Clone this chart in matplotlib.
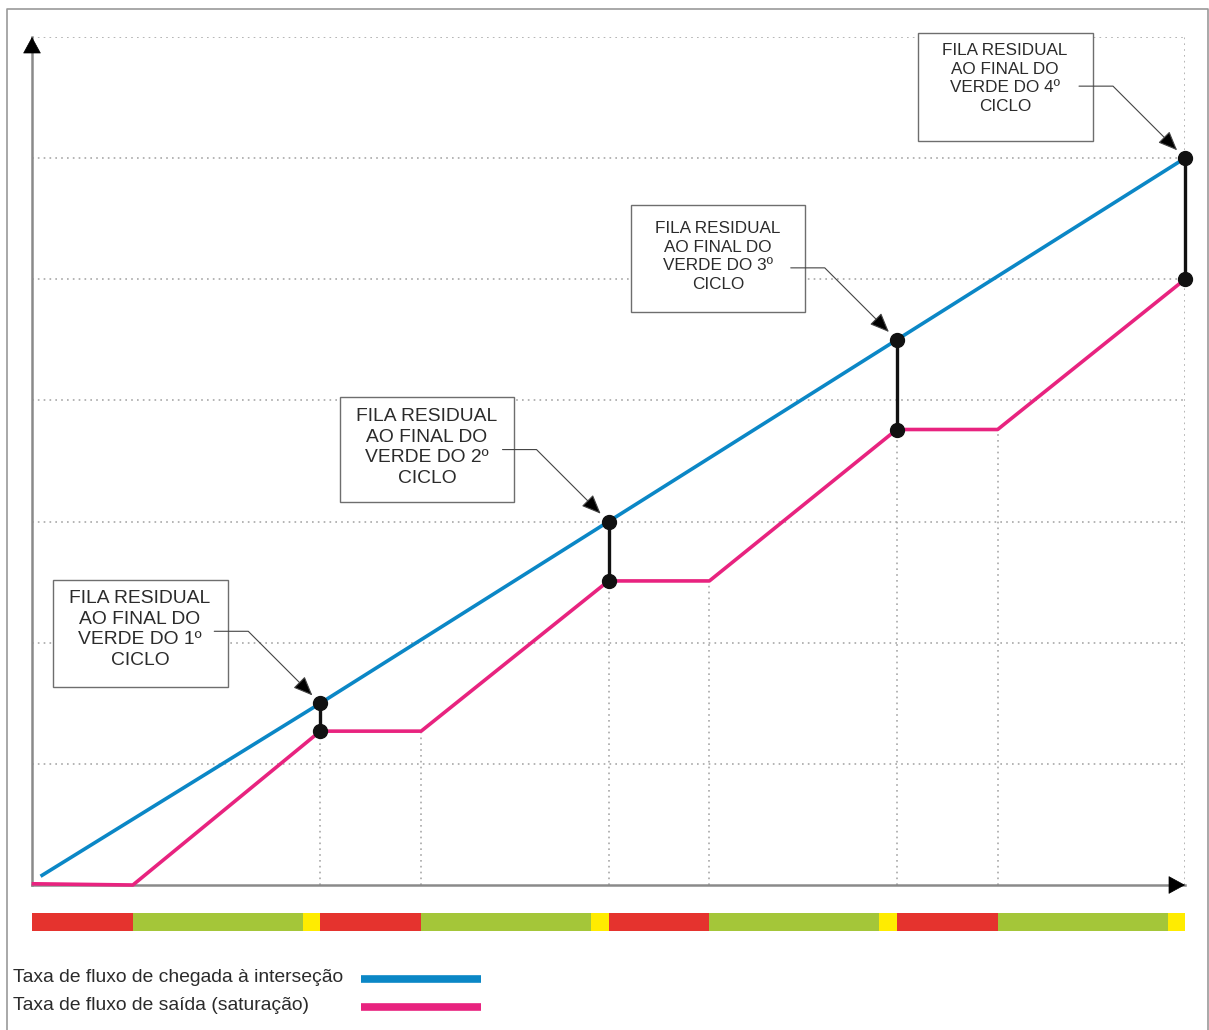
import numpy as np
import matplotlib.pyplot as plt
from matplotlib.patches import Rectangle
from matplotlib.transforms import Affine2D

plt.rcParams['font.family'] = ['Liberation Sans', 'DejaVu Sans']

# cumulative vehicles (grid units) vs time (cycle = 100)
time_arrival = [3.5, 100, 200, 300, 400]
arrivals = [0.08, 1.50, 3.00, 4.50, 6.00]

time_departure = [0.5, 35, 100, 135, 200, 235, 300, 335, 400]
departures = [0.01, 0.0, 1.27, 1.27, 2.51, 2.51, 3.76, 3.76, 5.00]

# residual queue at end of each green
queue_times = [100, 200, 300, 400]
queue_top = [1.50, 3.00, 4.50, 6.00]
queue_bottom = [1.27, 2.51, 3.76, 5.00]

# signal phases
phase_durations = [35, 59, 6, 35, 59, 6, 35, 59, 6, 35, 59, 6]
phase_names = ['red', 'green', 'yellow'] * 4

box_labels = ["FILA RESIDUAL\nAO FINAL DO\nVERDE DO 1º\nCICLO",
              "FILA RESIDUAL\nAO FINAL DO\nVERDE DO 2º\nCICLO",
              "FILA RESIDUAL\nAO FINAL DO\nVERDE DO 3º\nCICLO",
              "FILA RESIDUAL\nAO FINAL DO\nVERDE DO 4º\nCICLO"]

legend_labels = ["Taxa de fluxo de chegada à interseção",
                 "Taxa de fluxo de saída (saturação)"]

blue = '#0b87c6'
pink = '#e8237f'
phase_colors = {'red': '#e5332e', 'green': '#a4c639', 'yellow': '#ffec00'}

W, H = 1209, 1030
fig = plt.figure(figsize=(W / 100, H / 100), dpi=100)


def px_axes(x0, y0, x1, y1):
    return fig.add_axes([x0 / W, 1 - y1 / H, (x1 - x0) / W, (y1 - y0) / H])


# pixel transform, origin top-left
tpx = Affine2D().scale(1 / 100, -1 / 100).translate(0, H / 100) + fig.dpi_scale_trans

ax = px_axes(32, 37, 1185, 885)
ax.set_xlim(0, 400)
ax.set_ylim(0, 7)
ax.axis('off')

# dotted grid
grid = dict(color='#a8a8a8', lw=1.2, linestyle=(0, (1, 2.5)), zorder=1)
for y in range(1, 8):
    ax.plot([0, 400], [y, y], **grid)
ax.vlines(time_departure[2:8], 0, departures[2:8], **grid)
ax.vlines([400], 0, 7, **grid)

# axes with arrows
ax.plot([0, 400], [0, 0], color='#8a8a8a', lw=1.8, clip_on=False, zorder=2)
ax.plot([0, 0], [0, 7], color='#8a8a8a', lw=1.8, clip_on=False, zorder=2)
head = dict(arrowstyle='-|>,head_length=0.55,head_width=0.3', color='black',
            lw=0.5, mutation_scale=20, shrinkA=0, shrinkB=0)
ax.annotate('', xy=(400, 0), xytext=(-14, 0), textcoords='offset pixels',
            arrowprops=head, annotation_clip=False)
ax.annotate('', xy=(0, 7), xytext=(0, -14), textcoords='offset pixels',
            arrowprops=head, annotation_clip=False)

# series
ax.plot(time_arrival, arrivals, color=blue, lw=2.6, zorder=3, clip_on=False)
ax.plot(time_departure, departures, color=pink, lw=2.6, zorder=3, clip_on=False)

# residual queues
ax.vlines(queue_times, queue_bottom, queue_top, color='#111111', lw=2.4, zorder=4,
          clip_on=False)
ax.plot(queue_times, queue_top, 'o', ms=10, color='#111111', zorder=5, clip_on=False)
ax.plot(queue_times, queue_bottom, 'o', ms=10, color='#111111', zorder=5, clip_on=False)

# annotation boxes (pixel layout)
boxes = [(53, 580, 175, 107), (340, 397, 174, 105), (631, 205, 174, 107), (918, 33, 175, 108)]
text_pos = [(140, 629.5, 13.9, 1.3), (427, 447.5, 13.9, 1.3), (718, 256.5, 12.3, 1.32),
            (1005, 78.5, 12.3, 1.32)]
for (bx, by, bw, bh), (tx, ty, fs, ls), label in zip(boxes, text_pos, box_labels):
    ax.add_patch(Rectangle((bx, by), bw, bh, transform=tpx, facecolor='white',
                           edgecolor='#6e6e6e', lw=1, zorder=2, clip_on=False))
    ax.text(tx, ty, label, transform=tpx, ha='center', va='center', fontsize=fs,
            color='#2b2b2b', linespacing=ls, zorder=6, clip_on=False)

arrow = dict(arrowstyle='-|>,head_length=0.6,head_width=0.25',
             connectionstyle='angle,angleA=0,angleB=135,rad=0',
             facecolor='black', edgecolor='#444444', lw=0.8,
             mutation_scale=20, shrinkA=0, shrinkB=8)
for t, y in zip(queue_times, queue_top):
    ax.annotate('', xy=(t, y), xytext=(-106, 72), textcoords='offset pixels',
                arrowprops=arrow, annotation_clip=False, zorder=6)

# signal bar
sax = px_axes(32, 913, 1185, 931)
starts = np.concatenate([[0], np.cumsum(phase_durations)[:-1]])
sax.broken_barh(list(zip(starts, phase_durations)), (0, 1),
                facecolors=[phase_colors[p] for p in phase_names])
sax.set_xlim(0, 400)
sax.set_ylim(0, 1)
sax.axis('off')

# legend
for i, (label, col) in enumerate(zip(legend_labels, [blue, pink])):
    y = 978 + i * 28
    ax.text(13, y, label, transform=tpx, ha='left', va='center', fontsize=13.9,
            color='#2b2b2b', clip_on=False)
    ax.plot([361, 481], [y + 1, y + 1], transform=tpx, color=col, lw=5.5,
            solid_capstyle='butt', clip_on=False)

# outer frame
ax.plot([7, 7, 1208, 1208], [1040, 9, 9, 1040], transform=tpx, color='#9a9a9a',
        lw=1.2, clip_on=False)

fig.savefig('out.png', dpi=100)
